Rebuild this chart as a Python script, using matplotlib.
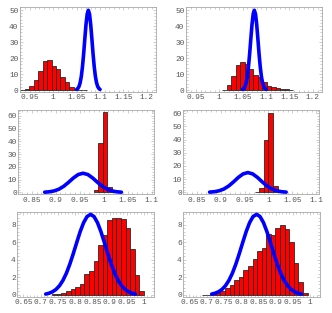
import numpy as np
import matplotlib
matplotlib.use("Agg")
import matplotlib.pyplot as plt
from matplotlib.ticker import FixedLocator, AutoMinorLocator

# ---------------- data ----------------
# histogram bins: start, width, heights
p1_start, p1_width = 0.930, 0.0095
p1_heights = [0, 0.6, 2.5, 6, 12, 18, 18.5, 15.2, 13, 8, 4.8, 2, 0.8, 0, 0]
p2_start, p2_width = 1.0065, 0.0095
p2_heights = [0, 3, 8.7, 15.6, 17.7, 16.3, 13.1, 9.4, 7.9, 5.2, 2.7, 1.7, 1.0, 0.6, 0.4, 0.2]
p3_start, p3_width = 0.979, 0.0095
p3_heights = [1.5, 38.5, 62.7, 4.2]
p4_start, p4_width = 0.9715, 0.0095
p4_heights = [0.3, 3, 39.5, 60.5, 5]
p5_start, p5_width = 0.734, 0.0133
p5_heights = [0.1, 0.15, 0.25, 0.4, 0.65, 0.9, 1.3, 2.4, 2.7, 3.9, 5.7, 6.9,
              8.6, 8.8, 8.8, 8.7, 7.7, 5.2, 2.3, 0.4]
p6_start, p6_width = 0.687, 0.0133
p6_heights = [0, 0.05, 0.1, 0.2, 0.45, 0.8, 1.1, 1.7, 2.0, 2.8, 3.3, 4.1, 5.0,
              5.4, 7.0, 6.8, 7.6, 8.0, 7.5, 6.1, 3.6, 1.5, 0.2]

# fitted density curves
top_x = [1.050, 1.0525, 1.055, 1.0575, 1.060, 1.0625, 1.065, 1.0675, 1.070, 1.0725,
         1.075, 1.0775, 1.080, 1.0825, 1.085, 1.0875, 1.090, 1.0925, 1.095, 1.0975, 1.100]
top_y = [0.38, 0.96, 2.19, 4.56, 8.60, 14.71, 22.83, 32.14, 41.02, 47.50,
         49.87, 47.50, 41.02, 32.14, 22.83, 14.71, 8.60, 4.56, 2.19, 0.96, 0.38]
mid_x = [0.877, 0.887, 0.897, 0.907, 0.917, 0.927, 0.937, 0.947, 0.957,
         0.967, 0.977, 0.987, 0.997, 1.007, 1.017, 1.027, 1.037]
mid_y = [0.16, 0.47, 1.18, 2.56, 4.84, 7.94, 11.31, 13.98, 15.0,
         13.98, 11.31, 7.94, 4.84, 2.56, 1.18, 0.47, 0.16]
bot_x = [0.715, 0.725, 0.735, 0.745, 0.755, 0.765, 0.775, 0.785, 0.795, 0.805,
         0.815, 0.825, 0.835, 0.845, 0.855, 0.865, 0.875, 0.885, 0.895, 0.905,
         0.915, 0.925, 0.935, 0.945, 0.955, 0.965, 0.975]
bot_y = [0.10, 0.20, 0.37, 0.64, 1.06, 1.67, 2.49, 3.53, 4.73, 6.01, 7.25, 8.28, 8.97,
         9.21, 8.97, 8.28, 7.25, 6.01, 4.73, 3.53, 2.49, 1.67, 1.06, 0.64, 0.37, 0.20, 0.10]

# ticks
top_xticks = [0.95, 1.0, 1.05, 1.1, 1.15, 1.2]
top_xlabels = ["0.95", "1", "1.05", "1.1", "1.15", "1.2"]
top_yticks = [0, 10, 20, 30, 40, 50]
mid_xticks = [0.85, 0.9, 0.95, 1.0, 1.05, 1.1]
mid_xlabels = ["0.85", "0.9", "0.95", "1", "1.05", "1.1"]
mid_yticks = [0, 10, 20, 30, 40, 50, 60]
bot_xticks = [0.65, 0.7, 0.75, 0.8, 0.85, 0.9, 0.95, 1.0]
bot_xlabels = ["0.65", "0.7", "0.75", "0.8", "0.85", "0.9", "0.95", "1"]
bot_yticks = [0, 2, 4, 6, 8]

# ---------------- figure ----------------
fig = plt.figure(figsize=(3.32, 3.13), dpi=100)
fig.patch.set_facecolor("white")

FONT = "Liberation Mono"
LBL = "#555555"
FRAME = "#a8a8a8"


def panel(rect, start, width, heights, cx, cy, xlim, ylim, xt, xl, yt):
    ax = fig.add_axes(rect)
    lefts = [start + i * width for i in range(len(heights))]
    ax.bar(lefts, heights, width=width, align="edge", color="#ff0000",
           edgecolor="#2a2a2a", linewidth=0.6, zorder=2)
    ax.plot(cx, cy, color="#0000ff", lw=2.6, solid_capstyle="round",
            solid_joinstyle="round", zorder=3)
    ax.set_xlim(*xlim)
    ax.set_ylim(*ylim)
    ax.xaxis.set_major_locator(FixedLocator(xt))
    ax.set_xticklabels(xl)
    ax.yaxis.set_major_locator(FixedLocator(yt))
    ax.set_yticklabels([str(v) for v in yt])
    ax.xaxis.set_minor_locator(AutoMinorLocator(5))
    ax.yaxis.set_minor_locator(AutoMinorLocator(5))
    for s in ax.spines.values():
        s.set_color(FRAME)
        s.set_linewidth(0.6)
    ax.tick_params(which="both", direction="in", top=True, right=True,
                   color=FRAME, width=0.4)
    ax.tick_params(which="major", length=2.2)
    ax.tick_params(which="minor", length=1.1)
    ax.tick_params(axis="x", pad=1.8, labelsize=5.6, labelcolor=LBL)
    ax.tick_params(axis="y", pad=1.2, labelsize=5.6, labelcolor=LBL)
    for t in ax.get_xticklabels() + ax.get_yticklabels():
        t.set_family(FONT)
    return ax


W, H = 332.0, 313.0


def rect(l, r, t, b):
    return [l / W, 1 - b / H, (r - l) / W, (b - t) / H]


panel(rect(20, 156, 6.7, 91.7), p1_start, p1_width, p1_heights, top_x, top_y,
      (0.929, 1.2195), (-1.05, 52.1), top_xticks, top_xlabels, top_yticks)
panel(rect(186, 322, 6.7, 91.7), p2_start, p2_width, p2_heights, top_x, top_y,
      (0.929, 1.2195), (-1.05, 52.1), top_xticks, top_xlabels, top_yticks)
panel(rect(18.3, 154, 110, 194.3), p3_start, p3_width, p3_heights, mid_x, mid_y,
      (0.822, 1.105), (-1.5, 64.5), mid_xticks, mid_xlabels, mid_yticks)
panel(rect(183.3, 318.7, 110, 194.3), p4_start, p4_width, p4_heights, mid_x, mid_y,
      (0.822, 1.105), (-1.5, 62.5), mid_xticks, mid_xlabels, mid_yticks)
panel(rect(17.3, 154, 211.7, 296.7), p5_start, p5_width, p5_heights, bot_x, bot_y,
      (0.6326, 1.029), (-0.2, 9.52), bot_xticks, bot_xlabels, bot_yticks)
panel(rect(183.3, 320, 211.7, 296.7), p6_start, p6_width, p6_heights, bot_x, bot_y,
      (0.6326, 1.029), (-0.2, 9.52), bot_xticks, bot_xlabels, bot_yticks)

fig.savefig("out.png", dpi=100, facecolor="white")
